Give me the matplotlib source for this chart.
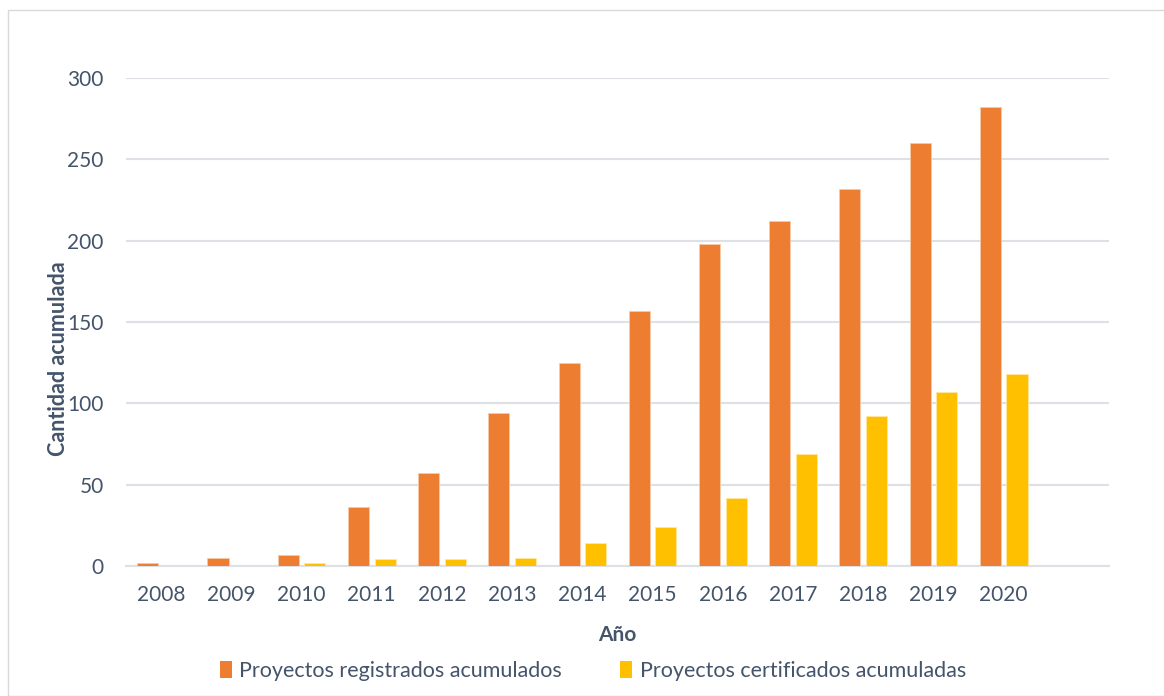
import matplotlib
matplotlib.use("Agg")
import matplotlib.pyplot as plt
from matplotlib.patches import Rectangle, Patch
import numpy as np

years = ["2008", "2009", "2010", "2011", "2012", "2013", "2014",
         "2015", "2016", "2017", "2018", "2019", "2020", ""]
registrados = [2, 5, 7, 36, 57, 94, 125, 157, 198, 212, 232, 260, 282, None]
certificados = [0, 0, 2, 4, 4, 5, 14, 24, 42, 69, 92, 107, 118, None]

label_reg = "Proyectos registrados acumulados"
label_cert = "Proyectos certificados acumuladas"

ORANGE = "#ED7D31"
YELLOW = "#FFC000"
TEXT = "#44546A"
GRID = "#DDE1E6"

plt.rcParams["font.family"] = ["Lato", "DejaVu Sans"]

W, H = 1164, 696
fig = plt.figure(figsize=(W / 100, H / 100), dpi=100)

# light frame around the chart area
fig.patches.append(Rectangle((8 / W, 0), 1.2, (H - 10) / H, transform=fig.transFigure,
                             fill=False, edgecolor="#D9D9D9", linewidth=1.0))

ax = fig.add_axes([126 / W, 130 / H, (1109 - 126) / W, (566 - 78) / H])

x = np.arange(len(years))
reg = np.array([np.nan if v is None else v for v in registrados], dtype=float)
cert = np.array([np.nan if v is None else v for v in certificados], dtype=float)

bw = 0.30
gap = 0.08
ax.bar(x - (bw + gap) / 2, reg, width=bw, color=ORANGE, edgecolor="#F7C9A8",
       linewidth=0.6, zorder=3)
ax.bar(x + (bw + gap) / 2, cert, width=bw, color=YELLOW, edgecolor="#FFE7A0",
       linewidth=0.6, zorder=3)

ax.set_xlim(-0.5, len(years) - 0.5)
ax.set_ylim(0, 300)
ax.set_yticks(range(0, 301, 50))
ax.set_xticks(x)
ax.set_xticklabels(years)

ax.yaxis.grid(True, color=GRID, linewidth=1.5, zorder=0)
ax.set_axisbelow(True)
for s in ["top", "right", "left"]:
    ax.spines[s].set_visible(False)
ax.spines["bottom"].set_color(GRID)
ax.spines["bottom"].set_linewidth(1.5)
ax.tick_params(axis="both", length=0, labelsize=15, colors=TEXT)
ax.tick_params(axis="x", pad=14)
ax.tick_params(axis="y", pad=16)

ax.set_xlabel("Año", fontsize=15, fontweight="bold", color=TEXT, labelpad=14)
ax.set_ylabel("Cantidad acumulada", fontsize=15.5, fontweight="bold", color=TEXT)
ax.yaxis.set_label_coords(-0.058, 0.425)

handles = [Patch(facecolor=ORANGE, label=label_reg), Patch(facecolor=YELLOW, label=label_cert)]
fig.legend(handles=handles, loc="center", bbox_to_anchor=(593 / W, 1 - 671 / H), ncol=2,
           frameon=False, fontsize=15.5, labelcolor=TEXT, handlelength=0.55, handleheight=0.85,
           handletextpad=0.35, columnspacing=2.7)

fig.savefig("out.png", dpi=100, facecolor="white")
